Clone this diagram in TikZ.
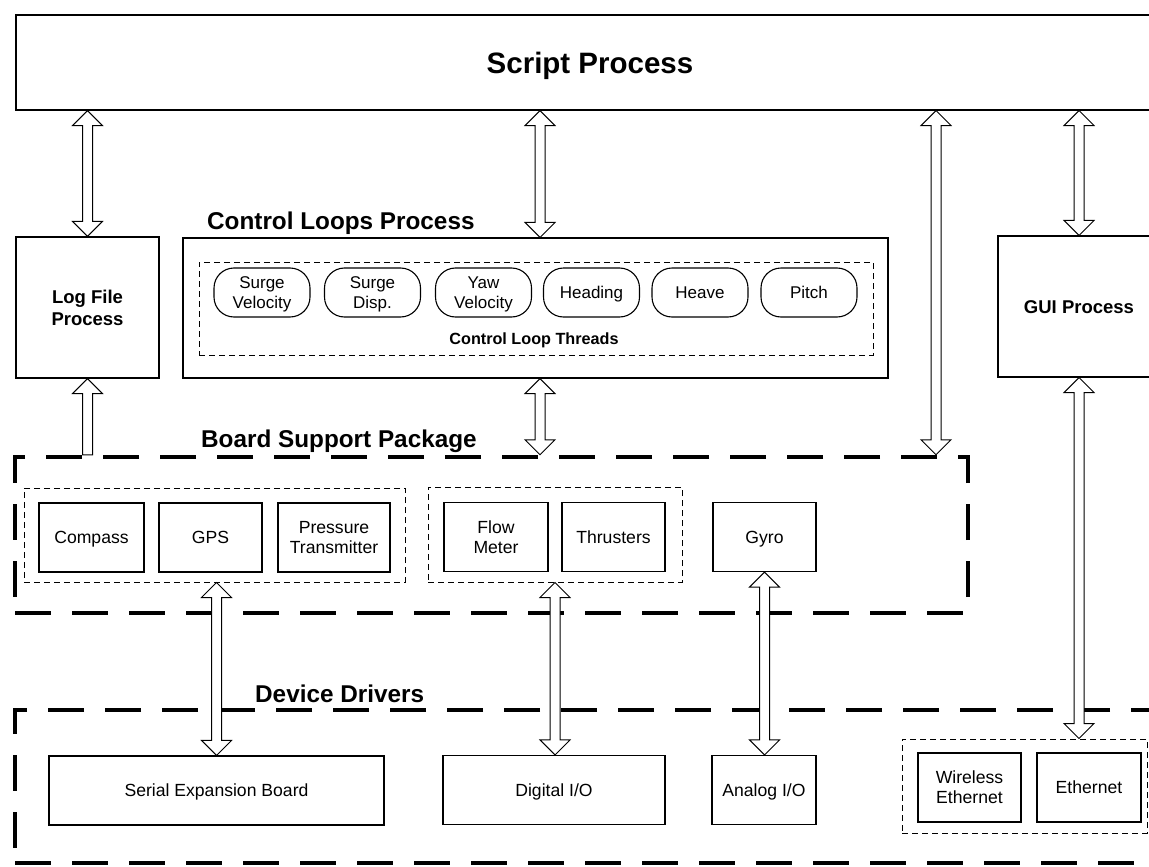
\documentclass[tikz,border=0pt]{standalone}
\usepackage{fontspec}
\setmainfont{Liberation Sans}
\usetikzlibrary{calc}
\tikzset{
  thinbox/.style={draw, line width=1.1pt, inner sep=0pt, align=center, minimum height=69pt,
    font=\fontsize{17.6}{20}\selectfont, text height=12.6pt, text depth=0pt},
  twolines/.style={text height=32.6pt, text depth=0pt},
  procbox/.style={draw, line width=1.1pt, inner sep=0pt, align=center,
    font=\bfseries\fontsize{18.5}{22}\selectfont, text height=13.2pt, text depth=0pt},
  loopnode/.style={draw, rounded corners=20pt, line width=1.1pt, minimum width=96pt,
    minimum height=49pt, inner sep=0pt, align=center, font=\fontsize{17}{20}\selectfont,
    text height=12.2pt, text depth=0pt},
  thingroup/.style={draw, dash pattern=on 6pt off 4pt, line width=1pt, inner sep=0pt},
  bigdash/.style={draw, line width=4.5pt, dash pattern=on 36pt off 21pt, inner sep=0pt},
  titletext/.style={font=\bfseries\fontsize{24.3}{28}\selectfont, inner sep=0pt, anchor=base west},
  hollow/.style={draw, fill=white, line width=1pt, line join=miter},
}
\newcommand\hollowboth[2]{\path[hollow] let \p1=(#1), \p2=(#2) in
  (\x1,\y1) -- (\x1+15pt,\y1-15pt) -- (\x1+5pt,\y1-15pt) -- (\x1+5pt,\y2+15pt)
  -- (\x1+15pt,\y2+15pt) -- (\x1,\y2) -- (\x1-15pt,\y2+15pt) -- (\x1-5pt,\y2+15pt)
  -- (\x1-5pt,\y1-15pt) -- (\x1-15pt,\y1-15pt) -- cycle;}
\newcommand\hollowup[2]{\path[hollow] let \p1=(#1), \p2=(#2) in
  (\x1,\y1) -- (\x1+15pt,\y1-15pt) -- (\x1+5pt,\y1-15pt) -- (\x1+5pt,\y2)
  -- (\x1-5pt,\y2) -- (\x1-5pt,\y1-15pt) -- (\x1-15pt,\y1-15pt) -- cycle;}
\begin{document}
\begin{tikzpicture}[x=1pt,y=-1pt]
\useasboundingbox (0,0) rectangle (1149,867);
\fill[white] (0,0) rectangle (1149,867);

% column coordinates
\coordinate (c2) at (540,0);
\coordinate (c3) at (936,0);

% Script process
\node[draw, line width=1.1pt, minimum width=1148pt, minimum height=95pt, inner sep=0pt,
  font=\bfseries\fontsize{29.5}{34}\selectfont, text height=21.1pt, text depth=0pt]
  (sp) at (590,62.5) {Script Process};

% Log file process
\node[procbox, minimum width=143pt, minimum height=141pt, text height=35.2pt] (lf) at (87.5,307.5) {Log File\\Process};

% Control loops process
\node[titletext] (cltitle) at (207,229) {Control Loops Process};
\node[draw, line width=1.1pt, minimum width=705pt, minimum height=140pt, inner sep=0pt] (cl) at (535.5,308) {};
\node[thingroup, minimum width=674pt, minimum height=93pt] (clg) at (536,308.5) {};
\node[loopnode, text height=32.2pt] (sv) at (262,292.5) {Surge\\Velocity};
\node[loopnode, text height=32.2pt] (sd) at (372.5,292.5) {Surge\\Disp.};
\node[loopnode, text height=32.2pt] (yv) at (483.5,292.5) {Yaw\\Velocity};
\node[loopnode] (hd) at (591.5,292.5) {Heading};
\node[loopnode] (hv) at (700,292.5) {Heave};
\node[loopnode] (pt) at (809,292.5) {Pitch};
\node[font=\bfseries\fontsize{16.2}{19}\selectfont, inner sep=0pt, anchor=base] (clt) at (534,344) {Control Loop Threads};

% GUI process
\node[procbox, minimum width=162pt, minimum height=141pt] (gui) at (1079,306.5) {GUI Process};

% Board support package
\node[titletext] (bsptitle) at (201,447) {Board Support Package};
\node[bigdash, minimum width=953pt, minimum height=156pt] (bsp) at (491.5,535) {};
\node[thingroup, minimum width=381pt, minimum height=94pt] (g1) at (214.5,535) {};
\node[thingroup, minimum width=254pt, minimum height=95pt] (g2) at (555,534.5) {};
\node[thinbox, minimum width=105pt] (compass) at (91.5,537.5) {Compass};
\node[thinbox, minimum width=103pt] (gps) at (210.5,537.5) {GPS};
\node[thinbox, twolines, minimum width=112pt] (press) at (334,537.5) {Pressure\\Transmitter};
\node[thinbox, twolines, minimum width=104pt] (flow) at (496,537) {Flow\\Meter};
\node[thinbox, minimum width=103pt] (thr) at (613.5,537) {Thrusters};
\node[thinbox, minimum width=103pt] (gyro) at (764.5,537) {Gyro};

% Device drivers
\node[titletext] (ddtitle) at (255,702) {Device Drivers};
\node[bigdash, minimum width=1155pt, minimum height=153pt] (dd) at (592.5,786.5) {};
\node[thinbox, minimum width=335pt] (ser) at (216.5,790.5) {Serial Expansion Board};
\node[thinbox, minimum width=222pt] (dio) at (554,790) {Digital I/O};
\node[thinbox, minimum width=104pt] (aio) at (764,790) {Analog I/O};
\node[thingroup, minimum width=245pt, minimum height=94pt] (eg) at (1024.5,786) {};
\node[thinbox, twolines, minimum width=103pt] (wle) at (969.5,787.5) {Wireless\\Ethernet};
\node[thinbox, minimum width=104pt] (eth) at (1089,787.5) {Ethernet};

% hollow arrows
\hollowboth{sp.south -| lf.north}{lf.north}
\hollowboth{sp.south -| c2}{cl.north -| c2}
\hollowboth{sp.south -| c3}{bsp.north -| c3}
\hollowboth{sp.south -| gui.north}{gui.north}
\hollowup{lf.south}{bsp.north -| lf.south}
\hollowboth{cl.south -| c2}{bsp.north -| c2}
\hollowboth{g1.south -| ser.north}{ser.north}
\hollowboth{g2.south}{dio.north -| g2.south}
\hollowboth{gyro.south}{aio.north -| gyro.south}
\hollowboth{gui.south}{eg.north -| gui.south}
\end{tikzpicture}
\end{document}
